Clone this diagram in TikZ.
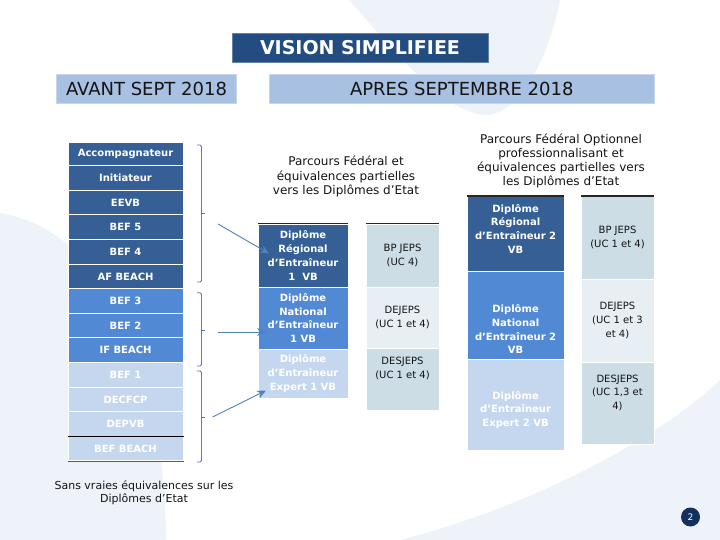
\documentclass[tikz,border=0pt]{standalone}
\usepackage{fontspec}
\setmainfont{DejaVu Sans}
\usetikzlibrary{arrows.meta}
\definecolor{pale}{HTML}{EEF3FA}
\definecolor{navy}{HTML}{234C80}
\definecolor{hdr}{HTML}{A8C0E1}
\definecolor{hdrb}{HTML}{C7D6ED}
\definecolor{dk}{HTML}{355F95}
\definecolor{md}{HTML}{5289D4}
\definecolor{lt}{HTML}{C5D7EF}
\definecolor{gb}{HTML}{CCDDE6}
\definecolor{gl}{HTML}{E7EEF4}
\definecolor{brc}{HTML}{4F81BD}
\definecolor{pg}{HTML}{13305E}
\definecolor{ink}{HTML}{141414}
\newcommand\fsz[2]{\fontsize{#1}{#2}\selectfont}
\begin{document}
\begin{tikzpicture}[x=1pt,y=-1pt,
  lrow/.style={draw=white, line width=1pt, fill=#1, minimum width=115pt, inner sep=0pt, text=white, font=\fsz{10}{12}\bfseries},
  cbox/.style={draw=white, line width=0.6pt, fill=#1, inner sep=0pt, text=white, align=center, font=\fsz{10}{13.7}\bfseries},
  ebox/.style={draw=white, line width=0.6pt, fill=#1, inner sep=0pt, text=ink, align=center, font=\fsz{10}{13.6}},
  wtxt/.style={text=white, align=center, font=\fsz{10}{13.7}\bfseries, inner sep=0pt},
  ktxt/.style={text=ink, align=center, font=\fsz{10}{13.6}, inner sep=0pt},
  hbox/.style={fill=hdr, draw=hdrb, line width=0.8pt, inner sep=0pt, text=ink, font=\fsz{18}{20}},
  brace/.style={draw=brc, line width=0.8pt, rounded corners=1.5pt},
  arr/.style={draw=brc, line width=0.9pt, -{Stealth[length=9pt,width=8pt,inset=3pt]}},
  topline/.style={line width=1.5pt, draw=black!85}
]
\useasboundingbox (0,0) rectangle (720,540);
\fill[white] (0,0) rectangle (720,540);
% background decoration
\fill[pale] (349,0) .. controls (410,70) and (450,115) .. (488,115) .. controls (525,110) and (550,50) .. (560,0) -- cycle;
\fill[pale] (0,213) .. controls (110,230) and (165,380) .. (166,540) -- (0,540) -- cycle;
\fill[pale] (400,540) .. controls (500,515) and (640,455) .. (720,380) -- (720,540) -- cycle;

% headers
\node[fill=navy, draw=navy!70, minimum width=256pt, minimum height=29pt, inner sep=0pt, text=white, font=\fsz{19}{21}\bfseries] (vis) at (360,47.5) {VISION SIMPLIFIEE};
\node[hbox, minimum width=180pt, minimum height=28.6pt] (av) at (146.5,89) {AVANT SEPT 2018};
\node[hbox, minimum width=384.5pt, minimum height=28.6pt] (ap) at (461.75,89) {APRES SEPTEMBRE 2018};

% left column
\node[lrow=dk, minimum height=23.2pt] (r1) at (125.5,154.1) {Accompagnateur};
\node[lrow=dk, minimum height=24.6pt] (r2) at (125.5,178) {Initiateur};
\node[lrow=dk, minimum height=24.6pt] (r3) at (125.5,202.6) {EEVB};
\node[lrow=dk, minimum height=24.6pt] (r4) at (125.5,227.2) {BEF 5};
\node[lrow=dk, minimum height=24.6pt] (r5) at (125.5,251.8) {BEF 4};
\node[lrow=dk, minimum height=24.6pt] (r6) at (125.5,276.4) {AF BEACH};
\node[lrow=md, minimum height=24.6pt] (r7) at (125.5,301) {BEF 3};
\node[lrow=md, minimum height=24.6pt] (r8) at (125.5,325.6) {BEF 2};
\node[lrow=md, minimum height=24.6pt] (r9) at (125.5,350.2) {IF BEACH};
\node[lrow=lt, minimum height=24.6pt] (r10) at (125.5,374.8) {BEF 1};
\node[lrow=lt, minimum height=24.6pt] (r11) at (125.5,399.4) {DECFCP};
\node[lrow=lt, minimum height=24.6pt] (r12) at (125.5,424) {DEPVB};
\node[lrow=lt, minimum height=24.6pt] (r13) at (125.5,448.6) {BEF BEACH};
\draw[line width=1.2pt, black] (r12.south west) -- (r12.south east);
\draw[line width=1.2pt, black!65] (r13.south west) -- (r13.south east);

\node[text=ink, align=center, font=\fsz{11}{13}] (sans) at (144,492.5) {Sans vraies équivalences sur les\\Diplômes d’Etat};

% braces
\draw[brace] (197,145) -- (201.5,145) -- (201.5,282) -- (197,282);
\draw[brace] (201.5,213.5) -- (205,213.5);
\draw[brace] (197,292.7) -- (201.5,292.7) -- (201.5,366) -- (197,366);
\draw[brace] (201.5,330) -- (205,330);
\draw[brace] (197,371) -- (201.5,371) -- (201.5,462) -- (197,462);
\draw[brace] (201.5,417) -- (205,417);

% middle block
\node[text=ink, align=center, font=\fsz{12}{14.1}] (mt) at (346,176.5) {Parcours Fédéral et\\équivalences partielles\\vers les Diplômes d’Etat};
\node[cbox=dk, minimum width=90pt, minimum height=63pt] (d1) at (303,255.5) {Diplôme\\Régional\\d’Entraîneur\\1\ \ VB};
\node[cbox=md, minimum width=90pt, minimum height=62pt] (d2) at (303,318) {Diplôme\\National\\d’Entraîneur\\1 VB};
\node[cbox=lt, minimum width=90pt, minimum height=49pt] (d3) at (303,373.5) {Diplôme\\d’Entraîneur\\Expert 1 VB};
\draw[topline] (d1.north west) -- (d1.north east);

\node[ebox=gb, minimum width=73pt, minimum height=63pt] (e1) at (402.5,255.5) {BP JEPS\\(UC 4)};
\node[ebox=gl, minimum width=73pt, minimum height=61pt] (e2) at (402.5,317.5) {DEJEPS\\(UC 1 et 4)};
\node[ebox=gb, minimum width=73pt, minimum height=62.5pt] (e3) at (402.5,379.25) {};
\node[ktxt] (e3t) at (402.5,368.5) {DESJEPS\\(UC 1 et 4)};
\draw[topline] (e1.north west) -- (e1.north east);

% arrows
\coordinate (s1) at (218,224);   \coordinate (t1) at (269,253.5);
\coordinate (s2) at (218,332);   \coordinate (t2) at (266,332);
\coordinate (s3) at (212.6,417); \coordinate (t3) at (266,390.5);
\draw[arr] (s1) -- (t1);
\draw[arr] (s2) -- (t2);
\draw[arr] (s3) -- (t3);

% right block
\node[text=ink, align=center, font=\fsz{12}{14.3}] (rt) at (561,161) {Parcours Fédéral Optionnel\\professionnalisant et\\équivalences partielles vers\\les Diplômes d’Etat};
\node[cbox=dk, minimum width=96.4pt, minimum height=75pt] (f1) at (515.6,233.8) {};
\node[wtxt] (f1t) at (515.6,228.8) {Diplôme\\Régional\\d’Entraîneur 2\\VB};
\node[cbox=md, minimum width=96.4pt, minimum height=87.7pt] (f2) at (515.6,315.2) {};
\node[wtxt] (f2t) at (515.6,329.2) {Diplôme\\National\\d’Entraîneur 2\\VB};
\node[cbox=lt, minimum width=96.4pt, minimum height=91.4pt] (f3) at (515.6,404.7) {};
\node[wtxt] (f3t) at (515.6,410) {Diplôme\\d’Entraîneur\\Expert 2 VB};
\draw[topline] (f1.north west) -- (f1.north east);

\node[ebox=gb, minimum width=73pt, minimum height=82.7pt] (g1) at (617.5,237.6) {BP JEPS\\(UC 1 et 4)};
\node[ebox=gl, minimum width=73pt, minimum height=83pt] (g2) at (617.5,320.5) {DEJEPS\\(UC 1 et 3\\et 4)};
\node[ebox=gb, minimum width=73pt, minimum height=82pt] (g3) at (617.5,403) {};
\node[ktxt] (g3t) at (617.5,392.6) {DESJEPS\\(UC 1,3 et\\4)};
\draw[topline] (g1.north west) -- (g1.north east);

% page number
\node[circle, fill=pg, minimum size=19pt, inner sep=0pt, text=white, font=\fsz{9}{10}] (pg) at (690.5,517) {2};
\end{tikzpicture}
\end{document}
